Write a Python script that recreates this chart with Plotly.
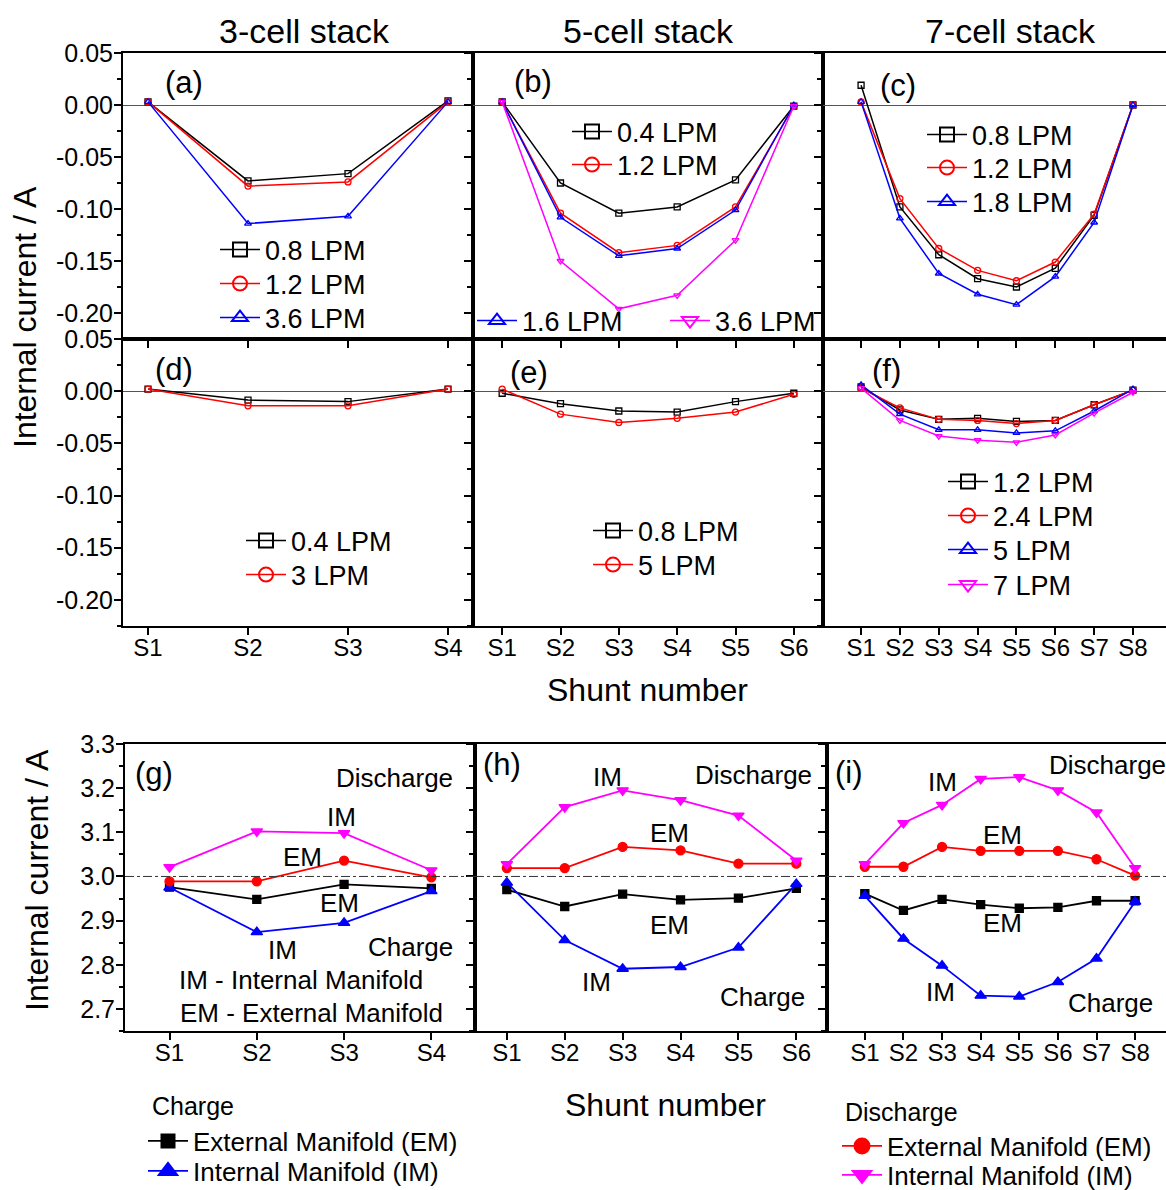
import plotly.graph_objects as go

W, H = 1166, 1190
FONT = "Liberation Sans, Arial, sans-serif"

# ---------------- data ----------------
shunts_3 = ["S1", "S2", "S3", "S4"]
shunts_5 = ["S1", "S2", "S3", "S4", "S5", "S6"]
shunts_7 = ["S1", "S2", "S3", "S4", "S5", "S6", "S7", "S8"]

# (a) 3-cell stack, internal manifold
a_08 = [0.003, -0.073, -0.066, 0.004]
a_12 = [0.003, -0.078, -0.074, 0.003]
a_36 = [0.003, -0.114, -0.107, 0.003]
# (b) 5-cell stack, internal manifold
b_04 = [0.003, -0.075, -0.104, -0.098, -0.072, -0.001]
b_12 = [0.003, -0.104, -0.142, -0.135, -0.098, -0.001]
b_16 = [0.003, -0.108, -0.145, -0.138, -0.101, 0.000]
b_36 = [0.003, -0.150, -0.196, -0.183, -0.130, -0.001]
# (c) 7-cell stack, internal manifold
c_08 = [0.019, -0.098, -0.144, -0.167, -0.175, -0.157, -0.106, 0.000]
c_12 = [0.003, -0.090, -0.138, -0.159, -0.169, -0.151, -0.105, 0.000]
c_18 = [0.003, -0.109, -0.162, -0.182, -0.192, -0.165, -0.113, 0.000]
# (d) 3-cell stack, external manifold
d_04 = [0.002, -0.0085, -0.010, 0.002]
d_3 = [0.002, -0.014, -0.014, 0.002]
# (e) 5-cell stack, external manifold
e_08 = [-0.002, -0.012, -0.019, -0.020, -0.010, -0.002]
e_5 = [0.002, -0.022, -0.030, -0.026, -0.020, -0.003]
# (f) 7-cell stack, external manifold
f_12 = [0.004, -0.018, -0.027, -0.026, -0.029, -0.028, -0.013, 0.001]
f_24 = [0.003, -0.016, -0.027, -0.028, -0.031, -0.028, -0.013, 0.001]
f_5 = [0.006, -0.022, -0.037, -0.037, -0.040, -0.038, -0.019, 0.002]
f_7 = [0.003, -0.028, -0.043, -0.047, -0.049, -0.042, -0.021, -0.001]

# (g) 3-cell charge / discharge
g_ch_em = [2.976, 2.948, 2.982, 2.973]
g_ch_im = [2.975, 2.874, 2.895, 2.967]
g_dis_em = [2.989, 2.989, 3.036, 2.998]
g_dis_im = [3.021, 3.102, 3.098, 3.014]
# (h) 5-cell
h_ch_em = [2.970, 2.932, 2.960, 2.947, 2.951, 2.973]
h_ch_im = [2.986, 2.856, 2.791, 2.795, 2.839, 2.983]
h_dis_em = [3.019, 3.019, 3.067, 3.059, 3.029, 3.029]
h_dis_im = [3.028, 3.157, 3.195, 3.173, 3.138, 3.036]
# (i) 7-cell
i_ch_em = [2.961, 2.923, 2.948, 2.936, 2.928, 2.930, 2.945, 2.945]
i_ch_im = [2.956, 2.859, 2.798, 2.730, 2.728, 2.761, 2.814, 2.943]
i_dis_em = [3.022, 3.022, 3.067, 3.058, 3.058, 3.058, 3.039, 3.002]
i_dis_im = [3.028, 3.121, 3.162, 3.221, 3.225, 3.195, 3.145, 3.019]

top_tickvals = [0.05, 0.0, -0.05, -0.10, -0.15, -0.20]
top_ticktext = ["0.05", "0.00", "-0.05", "-0.10", "-0.15", "-0.20"]
bot_tickvals = [3.3, 3.2, 3.1, 3.0, 2.9, 2.8, 2.7]
bot_ticktext = ["3.3", "3.2", "3.1", "3.0", "2.9", "2.8", "2.7"]

BLACK, RED, BLUE, MAG = "#000000", "#ff0000", "#0000ff", "#ff00ff"


def px_x(p):
    return p / W


def px_y(p):
    return 1 - p / H


def pos(labels):
    return list(range(1, len(labels) + 1))


def sfx(n):
    return "" if n == 1 else str(n)


fig = go.Figure()
layout = {}
legend_count = [0]


def new_legend(x_px, y_px, size):
    legend_count[0] += 1
    k = legend_count[0]
    lid = "legend" if k == 1 else "legend%d" % k
    layout[lid] = dict(x=px_x(x_px), y=px_y(y_px), xanchor="left", yanchor="middle",
                       bgcolor="rgba(0,0,0,0)", borderwidth=0, itemwidth=40,
                       itemsizing="trace", tracegroupgap=0,
                       font=dict(family=FONT, size=size, color="black"))
    return lid


def add(n, labels, y, name, color, symbol, leg_pos=None, size=6, width=1.5,
        leg_size=14, leg_font=27):
    fig.add_trace(go.Scatter(
        x=pos(labels), y=y, name=name, mode="lines+markers",
        line=dict(color=color, width=width),
        marker=dict(symbol=symbol, size=size, color=color,
                    line=dict(color=color, width=1.3)),
        xaxis="x" + sfx(n), yaxis="y" + sfx(n), showlegend=False,
    ))
    if leg_pos is not None:
        lid = new_legend(leg_pos[0] - 5, leg_pos[1], leg_font)
        # legend-only entry (no data points) with a larger symbol
        fig.add_trace(go.Scatter(
            x=[None], y=[None], name=name, mode="lines+markers",
            line=dict(color=color, width=width),
            marker=dict(symbol=symbol, size=leg_size, color=color,
                        line=dict(color=color, width=2)),
            xaxis="x" + sfx(n), yaxis="y" + sfx(n), legend=lid, showlegend=True,
            hoverinfo="skip",
        ))


# (a)
add(1, shunts_3, a_08, "0.8 LPM", BLACK, "square-open", (220, 250))
add(1, shunts_3, a_12, "1.2 LPM", RED, "circle-open", (220, 284))
add(1, shunts_3, a_36, "3.6 LPM", BLUE, "triangle-up-open", (220, 318))
# (b)
add(2, shunts_5, b_04, "0.4 LPM", BLACK, "square-open", (572, 132))
add(2, shunts_5, b_12, "1.2 LPM", RED, "circle-open", (572, 165))
add(2, shunts_5, b_16, "1.6 LPM", BLUE, "triangle-up-open", (477, 321))
add(2, shunts_5, b_36, "3.6 LPM", MAG, "triangle-down-open", (670, 321))
# (c)
add(3, shunts_7, c_08, "0.8 LPM", BLACK, "square-open", (927, 135))
add(3, shunts_7, c_12, "1.2 LPM", RED, "circle-open", (927, 168))
add(3, shunts_7, c_18, "1.8 LPM", BLUE, "triangle-up-open", (927, 202))
# (d)
add(4, shunts_3, d_04, "0.4 LPM", BLACK, "square-open", (246, 541))
add(4, shunts_3, d_3, "3 LPM", RED, "circle-open", (246, 575))
# (e)
add(5, shunts_5, e_08, "0.8 LPM", BLACK, "square-open", (593, 531))
add(5, shunts_5, e_5, "5 LPM", RED, "circle-open", (593, 565))
# (f)
add(6, shunts_7, f_12, "1.2 LPM", BLACK, "square-open", (948, 482))
add(6, shunts_7, f_24, "2.4 LPM", RED, "circle-open", (948, 516))
add(6, shunts_7, f_5, "5 LPM", BLUE, "triangle-up-open", (948, 550))
add(6, shunts_7, f_7, "7 LPM", MAG, "triangle-down-open", (948, 585))

# (g), (h), (i)
for n, labels, ch_em, ch_im, dis_em, dis_im in [
    (7, shunts_3, g_ch_em, g_ch_im, g_dis_em, g_dis_im),
    (8, shunts_5, h_ch_em, h_ch_im, h_dis_em, h_dis_im),
    (9, shunts_7, i_ch_em, i_ch_im, i_dis_em, i_dis_im),
]:
    first = n == 7
    add(n, labels, ch_em, "External Manifold (EM)", BLACK, "square",
        (148, 1141) if first else None, size=8, width=1.8, leg_size=13, leg_font=26)
    add(n, labels, ch_im, "Internal Manifold (IM)", BLUE, "triangle-up",
        (148, 1171) if first else None, size=10, width=1.8, leg_size=16, leg_font=26)
    add(n, labels, dis_em, "External Manifold (EM)", RED, "circle",
        (842, 1146) if first else None, size=9, width=1.8, leg_size=15, leg_font=26)
    add(n, labels, dis_im, "Internal Manifold (IM)", MAG, "triangle-down",
        (842, 1175) if first else None, size=10, width=1.8, leg_size=16, leg_font=26)

# ---------------- axes ----------------
col_x = [(123, 473), (473, 823), (823, 1166)]
col_x_bot = [(125, 475), (475, 827), (827, 1166)]
row_y = [(53, 339), (339, 626), (744, 1031)]
xranges_top = [[0.75, 4.25], [0.5, 6.5], [0.02, 8.85]]
xranges_bot = [[0.49, 4.5], [0.45, 6.53], [0.02, 8.8]]
labels_by_col = [shunts_3, shunts_5, shunts_7]

axis_common = dict(showline=True, linecolor="black", linewidth=2, mirror=True,
                   showgrid=False, zeroline=False, ticks="outside",
                   tickcolor="black", tickwidth=2, ticklen=7)

n = 0
for r in range(3):
    for c in range(3):
        n += 1
        s = sfx(n)
        xd = col_x_bot[c] if r == 2 else col_x[c]
        xr = xranges_bot[c] if r == 2 else xranges_top[c]
        labels = labels_by_col[c]
        xa = dict(axis_common)
        xa.update(domain=[px_x(xd[0]), px_x(xd[1])], range=xr,
                  anchor="y" + s, tickmode="array",
                  tickvals=pos(labels), ticktext=labels,
                  showticklabels=(r != 0), ticklabelstandoff=-8,
                  tickfont=dict(family=FONT, size=24, color="black"))
        ya = dict(axis_common)
        ya.update(domain=[px_y(row_y[r][1]), px_y(row_y[r][0])],
                  anchor="x" + s, tickmode="array",
                  showticklabels=(c == 0), mirror=(c != 2),
                  ticklabelstandoff=-4,
                  tickfont=dict(family=FONT, size=25, color="black"))
        if r < 2:
            ya.update(range=[-0.225, 0.05], tickvals=top_tickvals, ticktext=top_ticktext,
                      minor=dict(ticks="outside", ticklen=4, tickwidth=1.5, tickcolor="black",
                                 tick0=0, dtick=0.025),
                      zeroline=True, zerolinecolor="#555555", zerolinewidth=1)
        else:
            ya.update(range=[2.65, 3.3], tickvals=bot_tickvals, ticktext=bot_ticktext,
                      minor=dict(ticks="outside", ticklen=4, tickwidth=1.5, tickcolor="black",
                                 tick0=3.0, dtick=0.05))
        layout["xaxis" + s] = xa
        layout["yaxis" + s] = ya

# dash-dot reference lines at 3.0 in bottom row
shapes = []
for n in (7, 8, 9):
    shapes.append(dict(type="line", xref="x%d domain" % n, x0=0, x1=1,
                       yref="y%d" % n, y0=3.0, y1=3.0,
                       line=dict(color="#333333", width=1, dash="dashdot")))

# ---------------- annotations ----------------
anns = []


def ann(text, x_px, y_px, size=26, xanchor="center"):
    anns.append(dict(text=text, x=px_x(x_px), y=px_y(y_px), xref="paper", yref="paper",
                     xanchor=xanchor, yanchor="middle", showarrow=False,
                     font=dict(family=FONT, size=size, color="black")))


ann("3-cell stack", 304, 31, 34)
ann("5-cell stack", 648, 31, 34)
ann("7-cell stack", 1010, 31, 34)

ann("(a)", 163, 83, 31, "left")
ann("(b)", 512, 82, 31, "left")
ann("(c)", 878, 86, 31, "left")
ann("(d)", 153, 369, 31, "left")
ann("(e)", 508, 372, 31, "left")
ann("(f)", 870, 370, 31, "left")
ann("(g)", 133, 773, 31, "left")
ann("(h)", 481, 764, 31, "left")
ann("(i)", 833, 772, 31, "left")

ann("Shunt number", 647, 690, 32)
ann("Shunt number", 665, 1105, 32)

ann("Charge", 150, 1106, 25, "left")
ann("Discharge", 843, 1112, 25, "left")

# bottom-row in-panel labels
ann("Discharge", 394, 778)
ann("IM", 341, 817)
ann("EM", 302, 857)
ann("EM", 339, 903)
ann("IM", 282, 950)
ann("Charge", 410, 947)
ann("IM - Internal Manifold", 301, 980)
ann("EM - External Manifold", 311, 1013)

ann("Discharge", 753, 775)
ann("IM", 607, 777)
ann("EM", 669, 833)
ann("EM", 669, 925)
ann("IM", 596, 982)
ann("Charge", 762, 997)

ann("Discharge", 1107, 765)
ann("IM", 942, 782)
ann("EM", 1003, 835)
ann("EM", 1003, 923)
ann("IM", 940, 992)
ann("Charge", 1110, 1003)

# y-axis titles
for xc, yc in ((25, 317), (37, 880)):
    anns.append(dict(text="Internal current / A", x=px_x(xc), y=px_y(yc),
                     xref="paper", yref="paper", xanchor="center", yanchor="middle",
                     textangle=-90, showarrow=False,
                     font=dict(family=FONT, size=32, color="black")))

fig.update_layout(
    width=W, height=H, margin=dict(l=0, r=0, t=0, b=0, autoexpand=False),
    paper_bgcolor="white", plot_bgcolor="white",
    font=dict(family=FONT, color="black"),
    annotations=anns, shapes=shapes, **layout,
)

fig.write_html("out.html")
